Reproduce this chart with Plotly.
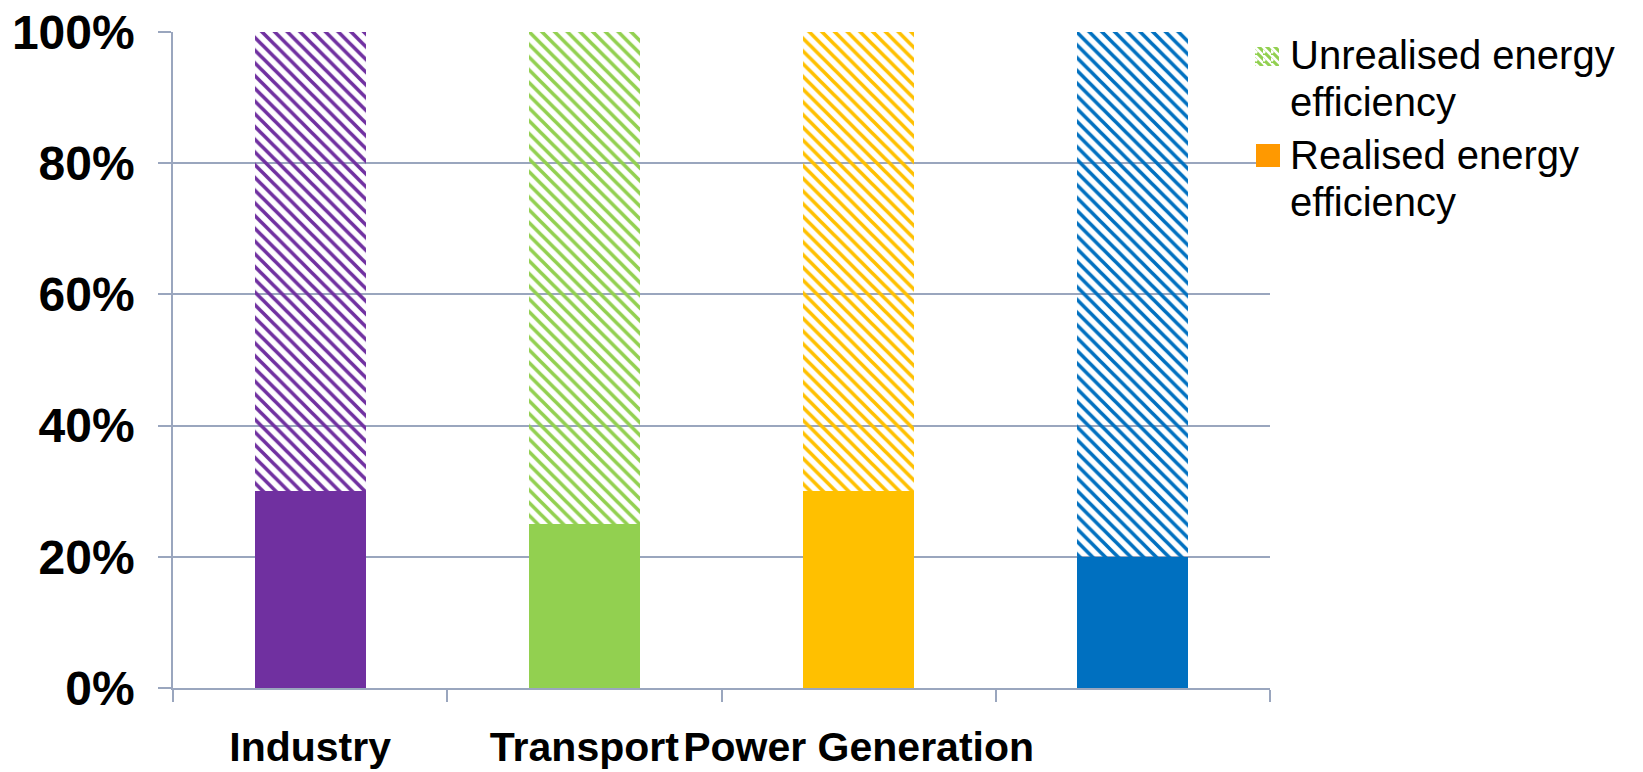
import base64
import plotly.graph_objects as go

# Sector shares of energy-efficiency potential (fractions of 100%)
categories = ["Industry", "Transport", "Power Generation", " "]
realised = [0.30, 0.25, 0.30, 0.20]
unrealised = [0.70, 0.75, 0.70, 0.80]
sector_colors = ["#7030A0", "#92D050", "#FFC000", "#0070C0"]

y_ticks = [0, 0.2, 0.4, 0.6, 0.8, 1.0]
y_tick_labels = ["0%", "20%", "40%", "60%", "80%", "100%"]

legend_labels = [("Unrealised energy", "efficiency"), ("Realised energy", "efficiency")]
legend_colors = ["#92D050", "#FF9900"]

W, H = 1643, 772
AXIS_COLOR = "#9AA6BE"
FONT = "Liberation Sans, Arial, sans-serif"
left, right, top, bottom = 173, 1270, 32, 688


def px_x(px):
    return (px - left) / (right - left)


def px_y(py):
    return (bottom - py) / (bottom - top)


fig = go.Figure()

# Realised part: solid fill
fig.add_trace(go.Bar(
    x=categories, y=realised,
    marker=dict(color=sector_colors, line=dict(width=0)),
    showlegend=False, name="Realised energy efficiency",
))

# Unrealised part: hatched fill with white diagonal stripes
fig.add_trace(go.Bar(
    x=categories, y=unrealised,
    marker=dict(
        color=sector_colors, line=dict(width=0),
        pattern=dict(shape="\\", fgcolor="white", bgcolor=sector_colors,
                     size=9, solidity=0.4, fillmode="replace"),
    ),
    showlegend=False, name="Unrealised energy efficiency",
))

# Legend drawn by hand so icon size and line spacing can be set freely
hatch_svg = (
    '<svg xmlns="http://www.w3.org/2000/svg" width="24" height="19" viewBox="0 0 24 19">'
    '<defs><pattern id="h" width="8" height="8" patternUnits="userSpaceOnUse">'
    '<rect width="8" height="8" fill="%s"/>'
    '<path d="M-2,2 L2,6 M0,0 L8,8 M6,-2 L10,2" stroke="white" stroke-width="2.6"/>'
    '</pattern></defs><rect width="24" height="19" fill="url(#h)"/></svg>'
) % legend_colors[0]
hatch_uri = "data:image/svg+xml;base64," + base64.b64encode(hatch_svg.encode()).decode()

fig.add_layout_image(
    source=hatch_uri, xref="paper", yref="paper",
    x=px_x(1255), y=px_y(47), sizex=px_x(1279) - px_x(1255), sizey=px_y(47) - px_y(66),
    xanchor="left", yanchor="top", sizing="stretch", layer="above",
)
fig.add_shape(
    type="rect", xref="paper", yref="paper",
    x0=px_x(1256), x1=px_x(1280), y0=px_y(144), y1=px_y(167),
    fillcolor=legend_colors[1], line=dict(width=0),
)

baselines = [68, 115, 168, 215]
lines = [t for pair in legend_labels for t in pair]
for text, base in zip(lines, baselines):
    fig.add_annotation(
        text=text, xref="paper", yref="paper",
        x=px_x(1288), y=px_y(base - 13), xanchor="left", yanchor="middle",
        showarrow=False, font=dict(size=40, family=FONT, color="black"),
    )

fig.update_layout(
    width=W, height=H,
    barmode="stack", bargap=0.595,
    plot_bgcolor="white", paper_bgcolor="white",
    margin=dict(l=left, r=W - right, t=top, b=H - bottom, autoexpand=False),
    font=dict(family=FONT, color="black"),
    showlegend=False,
    xaxis=dict(
        type="category", categoryorder="array", categoryarray=categories,
        tickson="boundaries", ticks="outside", ticklen=12,
        tickcolor=AXIS_COLOR, tickwidth=1.5,
        showline=True, linecolor=AXIS_COLOR, linewidth=2,
        showgrid=False, tickangle=0, automargin=False,
        tickfont=dict(size=41, family=FONT, color="black", weight="bold"),
        ticklabelstandoff=22,
    ),
    yaxis=dict(
        range=[0, 1], tickvals=y_ticks, ticktext=y_tick_labels,
        ticks="outside", ticklen=13, tickcolor=AXIS_COLOR, tickwidth=1.5,
        showline=True, linecolor=AXIS_COLOR, linewidth=1.5,
        showgrid=True, gridcolor=AXIS_COLOR, gridwidth=1.5,
        zeroline=False, automargin=False,
        tickfont=dict(size=48, family=FONT, color="black", weight="bold"),
        ticklabelstandoff=14,
    ),
)

fig.write_html("out.html")
